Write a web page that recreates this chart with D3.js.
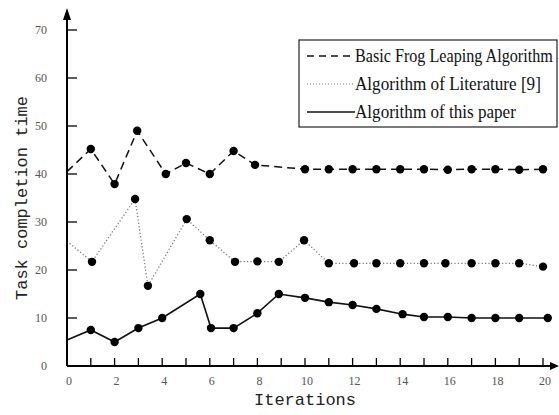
<!DOCTYPE html>
<html>
<head>
<meta charset="utf-8">
<script src="https://cdn.jsdelivr.net/npm/d3@7"></script>
<style>
  body { margin: 0; background: #fff; }
  svg { display: block; }
</style>
</head>
<body>
<div id="chart"></div>
<script>
// values
var basicX = [0, 1, 2, 2.95, 4.15, 5, 6, 7, 7.9, 10, 11, 12, 13, 14, 15, 16, 17, 18, 19, 20],
  basicY = [40.5, 45.2, 37.9, 49, 40, 42.3, 40, 44.8, 41.9, 41, 41, 41, 41, 41, 41, 40.9, 41, 41, 40.9, 41];
var litX = [0, 1.05, 2.86, 3.4, 5.03, 6, 7.06, 8, 8.9, 9.96, 11, 12.06, 13, 14, 15, 15.9, 17, 18, 19, 20],
  litY = [26, 21.7, 34.8, 16.7, 30.6, 26.2, 21.7, 21.8, 21.7, 26.2, 21.4, 21.4, 21.4, 21.4, 21.4, 21.4, 21.4, 21.4, 21.4, 20.7];
var oursX = [0, 1, 2, 3, 4, 5.6, 6.05, 7, 8, 8.9, 10, 11, 12, 13, 14.1, 15, 16, 17, 18, 19, 20.2],
  oursY = [5.4, 7.5, 5, 7.9, 10, 15, 7.9, 7.9, 11, 15, 14.2, 13.3, 12.7, 11.9, 10.8, 10.2, 10.2, 10, 10, 10, 10];

var xTicks = d3.range(0, 21, 2),
  yTicks = [0, 10, 20, 30, 40, 50, 60, 70],
  legendLabel = ["Basic Frog Leaping Algorithm", "Algorithm of Literature [9]", "Algorithm of this paper"];

var width = 559, height = 415;

var svg = d3.select("#chart").append("svg")
    .attr("width", width)
    .attr("height", height);

var x = d3.scaleLinear().domain([0, 20]).range([67, 543]),
  y = d3.scaleLinear().domain([0, 70]).range([366, 30]);

var series = [
  { xs: basicX, ys: basicY, dash: "8,5", color: "#111", w: 1.5 },
  { xs: litX, ys: litY, dash: "1.2,2.2", color: "#777", w: 1.3 },
  { xs: oursX, ys: oursY, dash: null, color: "#111", w: 1.6 }
];

var line = d3.line()
    .x(function (d) { return x(d[0]); })
    .y(function (d) { return y(d[1]); });

series.forEach(function (s) {
  var pts = s.xs.map(function (v, i) { return [v, s.ys[i]]; });
  svg.append("path")
    .attr("d", line(pts))
    .attr("fill", "none")
    .attr("stroke", s.color)
    .attr("stroke-width", s.w)
    .attr("stroke-dasharray", s.dash);
  svg.selectAll(null)
    .data(pts.filter(function (d) { return d[0] > 0; }))
    .enter().append("circle")
    .attr("cx", function (d) { return x(d[0]); })
    .attr("cy", function (d) { return y(d[1]); })
    .attr("r", 4.2)
    .attr("fill", "#000");
});

// axes
var xAxis = svg.append("g");
xAxis.append("line")
  .attr("x1", x(0)).attr("x2", 553)
  .attr("y1", y(0)).attr("y2", y(0))
  .attr("stroke", "#000").attr("stroke-width", 2);
xAxis.append("path")
  .attr("d", "M559," + y(0) + " L550," + (y(0) - 4) + " L550," + (y(0) + 4) + "Z")
  .attr("fill", "#000");
xAxis.selectAll(".xt")
  .data(d3.range(1, 21))
  .enter().append("line")
  .attr("x1", function (d) { return x(d); })
  .attr("x2", function (d) { return x(d); })
  .attr("y1", y(0)).attr("y2", y(0) - 8)
  .attr("stroke", "#000").attr("stroke-width", 1.3);
xAxis.selectAll(".xl")
  .data(xTicks)
  .enter().append("text")
  .text(function (d) { return d; })
  .attr("x", function (d) { return x(d) + 2; })
  .attr("y", y(0) + 19)
  .attr("text-anchor", "middle")
  .style("font-family", "Liberation Serif")
  .style("font-size", "12px")
  .attr("fill", "#555");

var yAxis = svg.append("g");
yAxis.append("line")
  .attr("x1", x(0)).attr("x2", x(0))
  .attr("y1", y(0)).attr("y2", 16)
  .attr("stroke", "#000").attr("stroke-width", 2);
yAxis.append("path")
  .attr("d", "M" + x(0) + ",8 L" + (x(0) - 4) + ",20 L" + (x(0) + 4) + ",20Z")
  .attr("fill", "#000");
yAxis.selectAll(".yt")
  .data(yTicks.filter(function (d) { return d > 0; }))
  .enter().append("line")
  .attr("x1", x(0)).attr("x2", x(0) + 10)
  .attr("y1", function (d) { return y(d); })
  .attr("y2", function (d) { return y(d); })
  .attr("stroke", "#000").attr("stroke-width", 1.3);
yAxis.selectAll(".yl")
  .data(yTicks)
  .enter().append("text")
  .text(function (d) { return d; })
  .attr("x", 47)
  .attr("y", function (d) { return y(d) + 4; })
  .attr("text-anchor", "end")
  .style("font-family", "Liberation Serif")
  .style("font-size", "12px")
  .attr("fill", "#555");

// axis titles
svg.append("text")
  .text("Iterations")
  .attr("x", 305).attr("y", 405)
  .attr("text-anchor", "middle")
  .style("font-family", "Liberation Mono")
  .style("font-size", "17px")
  .attr("fill", "#222");
svg.append("text")
  .text("Task completion time")
  .attr("transform", "translate(27,198) rotate(-90)")
  .attr("text-anchor", "middle")
  .style("font-family", "Liberation Mono")
  .style("font-size", "17px")
  .attr("fill", "#222");

// legend
var lg = svg.append("g");
lg.append("rect")
  .attr("x", 299).attr("y", 40)
  .attr("width", 258).attr("height", 87)
  .attr("fill", "#fff")
  .attr("stroke", "#333").attr("stroke-width", 1.3);
var lens = [198, 186, 161];
var rows = lg.selectAll(".legend")
  .data(legendLabel)
  .enter().append("g")
  .attr("class", "legend");
rows.append("line")
  .attr("x1", 307).attr("x2", 355)
  .attr("y1", function (d, i) { return 56 + i * 28; })
  .attr("y2", function (d, i) { return 56 + i * 28; })
  .attr("stroke", function (d, i) { return series[i].color; })
  .attr("stroke-width", function (d, i) { return i == 1 ? 1 : 1.4; })
  .attr("stroke-dasharray", function (d, i) { return i == 0 ? "7,5" : i == 1 ? "1,2" : null; });
// condensed look: squeeze each label horizontally to the width seen in the picture
rows.append("text")
  .text(function (d) { return d; })
  .style("font-family", "Liberation Serif")
  .style("font-size", "19px")
  .attr("fill", "#111")
  .attr("transform", function (d, i) {
    var sx = lens[i] / this.getComputedTextLength();
    return "translate(355," + (62 + i * 28) + ") scale(" + sx + ",1)";
  });
</script>
</body>
</html>
